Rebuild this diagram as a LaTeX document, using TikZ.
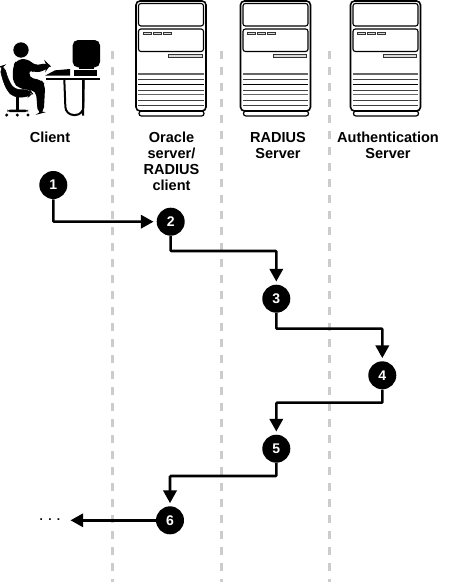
\documentclass[tikz,border=0pt]{standalone}
\usepackage{fontspec}
\setmainfont{Liberation Sans}
\usetikzlibrary{arrows.meta}
\tikzset{
  px/.style={x=0.75pt,y=-0.75pt},
  lane/.style={draw=black!20,line width=2.25pt,dash pattern=on 6pt off 6pt},
  step circle/.style={circle,fill=black,text=white,inner sep=0pt,minimum size=21pt,font=\bfseries\fontsize{10.5}{11}\selectfont},
  flow/.style={line width=1.9pt,draw=black,-{Triangle[length=9.5pt,width=10pt]},shorten >=2.2pt,rounded corners=0.6pt},
  label text/.style={align=center,font=\bfseries\fontsize{10.9}{12}\selectfont,inner sep=0pt,anchor=north},
  srv/.style={draw=black,line width=0.85pt,rounded corners=1.8pt},
  srvline/.style={draw=black,line width=0.6pt},
  srvgray/.style={draw=black!60,line width=1pt},
}
\newcommand{\serverbox}[1]{%
\begin{scope}[shift={(#1,0)}]
  \draw[srv,fill=white,line width=0.9pt] (139,111) rectangle (204,116);
  \draw[srv,line width=1.2pt,rounded corners=3pt] (136,1) rectangle (206,111);
  \draw[srv] (138.5,3.5) rectangle (203.5,26);
  \draw[srv] (138.5,29) rectangle (203.5,51.5);
  \foreach \a in {143,153,163}{\draw[draw=black!80,line width=0.6pt,fill=black!15] (\a,32) rectangle (\a+8,34.5);}
  \draw[draw=black!80,line width=0.6pt,fill=black!15] (168.5,54) rectangle (202,57);
  \foreach \yy in {74,84.5,94.5}{\draw[srvgray] (138,\yy) -- (203.5,\yy);}
  \foreach \yy in {79,90,100,105.5}{\draw[srvline,draw=black!75] (138,\yy) -- (203.5,\yy);}
  \draw[srvline] (138,84.5) -- (203.5,84.5);
\end{scope}}
\begin{document}
\begin{tikzpicture}[px]
\useasboundingbox (0,0) rectangle (453,582);
% swim lanes
\coordinate (l1a) at (112.5,51); \coordinate (l1b) at (112.5,582);
\coordinate (l2a) at (221.5,51); \coordinate (l2b) at (221.5,582);
\coordinate (l3a) at (329.3,51); \coordinate (l3b) at (329.3,582);
\draw[lane] (l1a) -- (l1b);
\draw[lane] (l2a) -- (l2b);
\draw[lane] (l3a) -- (l3b);
% servers
\serverbox{0}
\serverbox{104.5}
\serverbox{214.5}
% client figure
\begin{scope}[shift={(0,35)},x=0.25pt,y=-0.25pt]
  \fill (63,45) circle (23);
  \filldraw[rounded corners=4pt,line width=0.7pt] (40,95) -- (50,76) -- (82,72) -- (106,94) -- (140,84) -- (148,92) -- (140,103) -- (104,113) -- (88,100) -- (85,130) -- (122,135) -- (134,150) -- (130,232) -- (115,236) -- (109,166) -- (60,160) -- (40,142) -- cycle;
  \filldraw[rounded corners=4pt,line width=0.4pt] (0,95) -- (12,91) -- (25,135) -- (42,163) -- (90,165) -- (97,175) -- (85,186) -- (40,186) -- (20,165) -- (5,125) -- cycle;
  \fill (47,186) rectangle (56,226);
  \fill[rounded corners=2pt] (22,224) rectangle (84,231);
  \foreach \a in {20,52,84}{\fill (\a,240) circle (5);}
  \fill[rounded corners=4pt] (218,15) rectangle (300,97);
  \fill (238,97) rectangle (282,103);
  \fill (222,105) rectangle (290,123);
  \fill (135,122) -- (165,106) -- (210,102) -- (210,122) -- cycle;
  \fill (137,128) rectangle (300,135);
  \draw[line width=1.5pt,rounded corners=6pt] (193,135) -- (197,240) -- (250,240) -- (250,135);
  \fill (246,135) -- (254,135) -- (252,242) -- (246,242) -- cycle;
\end{scope}
% labels
\node[label text] (tclient) at (50,132) {Client};
\node[label text] (toracle) at (171.5,132) {Oracle\\server/\\RADIUS\\client};
\node[label text] (tradius) at (278,132) {RADIUS\\Server};
\node[label text] (tauth) at (388,132) {Authentication\\Server};
% steps
\node[step circle] (n1) at (53.3,185) {1};
\node[step circle] (n2) at (170.7,221.7) {2};
\node[step circle] (n3) at (276.3,298.7) {3};
\node[step circle] (n4) at (382.3,375.3) {4};
\node[step circle] (n5) at (276.3,448.7) {5};
\node[step circle] (n6) at (170,520.3) {6};
\node[inner sep=0pt,font=\bfseries\fontsize{9}{10}\selectfont] (dots) at (50,519.5) {.\hspace{4pt}.\hspace{4pt}.};
\coordinate (end6) at (70.5,520.3);
% connectors
\draw[flow] (n1) |- (n2);
\draw[flow] (n2) -- ++(0,29.3) -| (n3);
\draw[flow] (n3) -- ++(0,30) -| (n4);
\draw[flow] (n4) -- ++(0,27.4) -| (n5);
\draw[flow] (n5) -- ++(0,27.3) -| (n6);
\draw[flow,shorten >=0pt] (n6) -- (end6);
\end{tikzpicture}
\end{document}
